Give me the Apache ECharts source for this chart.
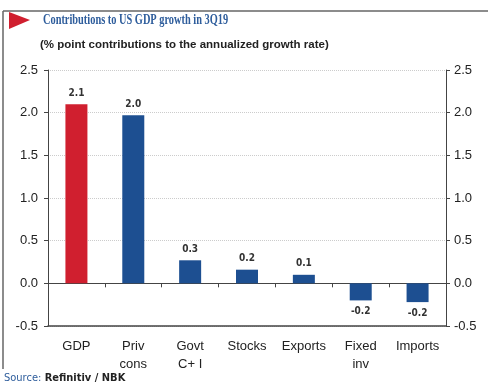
<!DOCTYPE html>
<html><head><meta charset="utf-8">
<script src="https://cdn.jsdelivr.net/npm/echarts@6/dist/echarts.min.js"></script>
<style>html,body{margin:0;padding:0;background:#fff}#c{width:488px;height:386px}</style>
</head><body><div id="c"></div>
<script>
var categories = ['GDP', 'Priv\ncons', 'Govt\nC+ I', 'Stocks', 'Exports', 'Fixed\ninv', 'Imports'];
var values = [2.1, 1.97, 0.27, 0.16, 0.10, -0.20, -0.22];
var labels = ['2.1', '2.0', '0.3', '0.2', '0.1', '-0.2', '-0.2'];
var barColors = ['#d01f2f', '#1d4f91', '#1d4f91', '#1d4f91', '#1d4f91', '#1d4f91', '#1d4f91'];
var yTicks = [-0.5, 0, 0.5, 1.0, 1.5, 2.0, 2.5];

var chart = echarts.init(document.getElementById('c'));
var data = values.map(function (v, i) {
  return {
    value: v,
    itemStyle: { color: barColors[i] },
    label: { position: v < 0 ? 'bottom' : 'top', formatter: labels[i] }
  };
});
var yLabelFmt = function (v) { return v.toFixed(1); };
chart.setOption({
  animation: false,
  grid: { left: 48, right: 42, top: 70, bottom: 60 },
  graphic: [
    { type: 'line', shape: { x1: 3, y1: 11, x2: 488, y2: 11 }, style: { stroke: '#666', lineWidth: 1.5 } },
    { type: 'line', shape: { x1: 3, y1: 11, x2: 3, y2: 369 }, style: { stroke: '#666', lineWidth: 1.5 } },
    { type: 'polygon', shape: { points: [[9, 12], [30, 20], [9, 29]] }, style: { fill: '#d01f2f' } },
    { type: 'text', x: 43, y: 13, scaleX: 0.74, style: { text: 'Contributions to US GDP growth in 3Q19', fill: '#2e5d9c', font: 'bold 14px "Liberation Serif", serif' } },
    { type: 'text', left: 40, top: 39, style: { text: '(% point contributions to the annualized growth rate)', fill: '#222', font: 'bold 11.5px "Liberation Sans", Arial, sans-serif' } },
    { type: 'text', left: 4, top: 372, style: { text: '{a|Source:} {b|Refinitiv / NBK}', rich: { a: { fill: '#2e5d9c', font: '11px "DejaVu Sans Condensed", sans-serif' }, b: { fill: '#222', font: 'bold 11px "DejaVu Sans Condensed", sans-serif' } } } }
  ],
  xAxis: [
    {
      type: 'category', data: categories, position: 'bottom',
      axisLine: { onZero: true, lineStyle: { color: '#444', width: 1 } },
      axisTick: { show: true, length: 4, lineStyle: { color: '#444' } },
      axisLabel: { show: false }
    },
    {
      type: 'category', data: categories, position: 'bottom',
      axisLine: { onZero: false, lineStyle: { color: '#444', width: 1.5 } },
      axisTick: { show: false },
      axisLabel: { interval: 0, color: '#222', fontSize: 13, fontFamily: 'Liberation Sans, Arial, sans-serif', margin: 11, lineHeight: 18 }
    }
  ],
  yAxis: [
    {
      type: 'value', min: -0.5, max: 2.5, interval: 0.5, position: 'left',
      axisLine: { show: true, lineStyle: { color: '#444' } },
      axisTick: { show: true, length: 4, lineStyle: { color: '#444' } },
      splitLine: { show: true, lineStyle: { color: '#ccc', type: 'dotted' } },
      axisLabel: { color: '#222', fontSize: 13, fontFamily: 'Liberation Sans, Arial, sans-serif', margin: 10, formatter: yLabelFmt }
    },
    {
      type: 'value', min: -0.5, max: 2.5, interval: 0.5, position: 'right',
      axisLine: { show: true, lineStyle: { color: '#444' } },
      axisTick: { show: true, length: 4, lineStyle: { color: '#444' } },
      splitLine: { show: false },
      axisLabel: { color: '#222', fontSize: 13, fontFamily: 'Liberation Sans, Arial, sans-serif', margin: 8, formatter: yLabelFmt }
    }
  ],
  series: [{
    type: 'bar', xAxisIndex: 0, yAxisIndex: 0, data: data, barWidth: 22,
    label: { show: true, color: '#333', fontSize: 10, fontWeight: 'bold', fontFamily: 'DejaVu Sans Condensed, sans-serif', distance: 6 }
  }]
});
</script></body></html>
